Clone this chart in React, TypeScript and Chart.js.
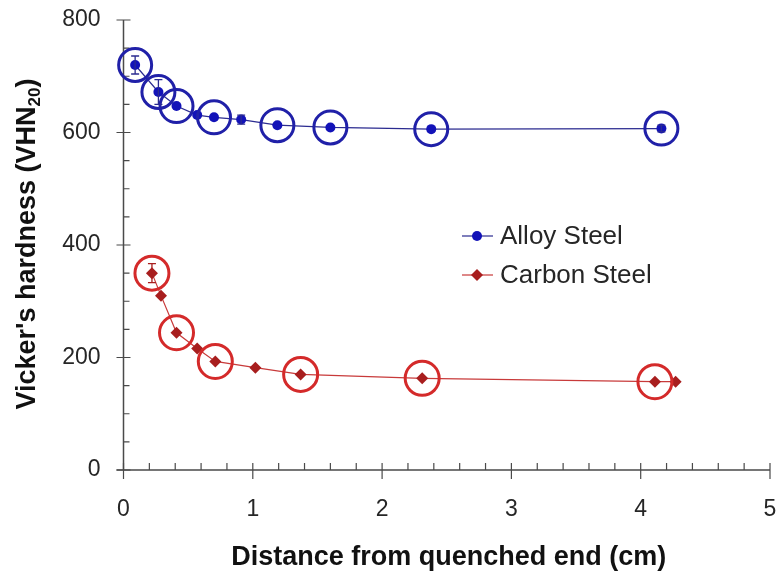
import React, { useEffect, useRef } from "react";
import { Chart, registerables } from "chart.js";

Chart.register(...registerables);

// ---- data ----
const alloyX = [0.09, 0.27, 0.41, 0.57, 0.7, 0.91, 1.19, 1.6, 2.38, 4.16];
const alloyY = [720, 672, 647, 631, 627, 623, 613, 609, 606, 607];
const alloyErr = [16, 22, 0, 0, 0, 8, 0, 0, 0, 6];
const alloyCircled = [true, true, true, false, true, false, true, true, true, true];

const carbonX = [0.22, 0.29, 0.41, 0.57, 0.71, 1.02, 1.37, 2.31, 4.11, 4.27];
const carbonY = [350, 310, 244, 216, 193, 182, 170, 163, 157, 157];
const carbonErr = [17, 0, 0, 0, 0, 0, 0, 0, 0, 0];
const carbonCircled = [true, false, true, false, true, false, true, true, true, false];

const xTicks = [0, 1, 2, 3, 4, 5];
const yTicks = [0, 200, 400, 600, 800];
const xTitle = "Distance from quenched end (cm)";
const yTitleMain = "Vicker's hardness (VHN";
const yTitleSub = "20";
const yTitleEnd = ")";
const seriesNames = ["Alloy Steel", "Carbon Steel"];

// ---- styles ----
const FONT = "'Liberation Sans', Arial, Helvetica, sans-serif";
const BLUE_LINE = "#2b2b90";
const BLUE_PT = "#1212b8";
const BLUE_RING = "#2020a8";
const RED_LINE = "#c83a3a";
const RED_PT = "#a81e1e";
const RED_RING = "#d42a2a";
const AXIS = "#4a4a4a";
const TEXT = "#262626";

const pts = (xs: number[], ys: number[]) => xs.map((x, i) => ({ x, y: ys[i] }));
const ptsMask = (xs: number[], ys: number[], m: boolean[]) =>
  xs.map((x, i) => ({ x, y: ys[i] })).filter((_, i) => m[i]);

const axesPlugin = {
  id: "customAxes",
  beforeDatasetsDraw(chart: any) {
    const { ctx, chartArea: a, scales } = chart;
    const xs = scales.x;
    const ys = scales.y;
    ctx.save();
    ctx.strokeStyle = AXIS;
    ctx.lineWidth = 1.5;
    ctx.beginPath();
    ctx.moveTo(a.left, a.top);
    ctx.lineTo(a.left, a.bottom);
    ctx.moveTo(a.left - 7, a.bottom);
    ctx.lineTo(a.right, a.bottom);
    ctx.stroke();
    ctx.lineWidth = 1.2;
    ctx.beginPath();
    for (let v = 0; v <= 800; v += 50) {
      const y = ys.getPixelForValue(v);
      if (v % 200 === 0) {
        ctx.moveTo(a.left - 7, y);
        ctx.lineTo(a.left + 7, y);
      } else {
        ctx.moveTo(a.left, y);
        ctx.lineTo(a.left + 6, y);
      }
    }
    for (let k = 0; k <= 25; k++) {
      const v = k * 0.2;
      const x = xs.getPixelForValue(v);
      if (k % 5 === 0) {
        ctx.moveTo(x, a.bottom - 7);
        ctx.lineTo(x, a.bottom + 9);
      } else {
        ctx.moveTo(x, a.bottom - 7);
        ctx.lineTo(x, a.bottom);
      }
    }
    ctx.stroke();
    ctx.restore();
  },
};

const errorPlugin = {
  id: "errorBars",
  afterDatasetsDraw(chart: any) {
    const { ctx, scales } = chart;
    const draw = (xs: number[], ys: number[], es: number[], color: string) => {
      ctx.save();
      ctx.strokeStyle = color;
      ctx.lineWidth = 1.3;
      ctx.beginPath();
      xs.forEach((xv, i) => {
        if (!es[i]) return;
        const x = scales.x.getPixelForValue(xv);
        const y1 = scales.y.getPixelForValue(ys[i] + es[i]);
        const y2 = scales.y.getPixelForValue(ys[i] - es[i]);
        ctx.moveTo(x, y1);
        ctx.lineTo(x, y2);
        ctx.moveTo(x - 4, y1);
        ctx.lineTo(x + 4, y1);
        ctx.moveTo(x - 4, y2);
        ctx.lineTo(x + 4, y2);
      });
      ctx.stroke();
      ctx.restore();
    };
    draw(alloyX, alloyY, alloyErr, BLUE_LINE);
    draw(carbonX, carbonY, carbonErr, RED_PT);
  },
};

const legendPlugin = {
  id: "customLegend",
  afterDraw(chart: any) {
    const { ctx } = chart;
    const rows = [
      { y: 236, line: BLUE_LINE, pt: BLUE_PT, style: "circle" },
      { y: 275, line: RED_LINE, pt: RED_PT, style: "diamond" },
    ];
    ctx.save();
    rows.forEach((r, i) => {
      ctx.strokeStyle = r.line;
      ctx.lineWidth = 1.2;
      ctx.beginPath();
      ctx.moveTo(462, r.y);
      ctx.lineTo(493, r.y);
      ctx.stroke();
      ctx.fillStyle = r.pt;
      ctx.beginPath();
      if (r.style === "circle") {
        ctx.arc(477, r.y, 5, 0, Math.PI * 2);
      } else {
        ctx.moveTo(477, r.y - 6);
        ctx.lineTo(483, r.y);
        ctx.lineTo(477, r.y + 6);
        ctx.lineTo(471, r.y);
        ctx.closePath();
      }
      ctx.fill();
      ctx.fillStyle = TEXT;
      ctx.font = `26px ${FONT}`;
      ctx.textAlign = "left";
      ctx.textBaseline = "middle";
      ctx.fillText(seriesNames[i], 500, r.y + 1);
    });
    ctx.restore();
  },
};

const titlesPlugin = {
  id: "customTitles",
  afterDraw(chart: any) {
    const { ctx, chartArea: a } = chart;
    ctx.save();
    ctx.fillStyle = "#111";
    ctx.font = `bold 27px ${FONT}`;
    ctx.textAlign = "center";
    ctx.textBaseline = "middle";
    ctx.fillText(xTitle, (a.left + a.right) / 2 + 2, 558);

    // y title with subscript
    const mainFont = `bold 27px ${FONT}`;
    const subFont = `bold 17px ${FONT}`;
    ctx.font = mainFont;
    const w1 = ctx.measureText(yTitleMain).width;
    const w3 = ctx.measureText(yTitleEnd).width;
    ctx.font = subFont;
    const w2 = ctx.measureText(yTitleSub).width;
    const total = w1 + w2 + w3;
    ctx.translate(28, 244);
    ctx.rotate(-Math.PI / 2);
    ctx.textAlign = "left";
    ctx.textBaseline = "middle";
    let x = -total / 2;
    ctx.font = mainFont;
    ctx.fillText(yTitleMain, x, 0);
    x += w1;
    ctx.font = subFont;
    ctx.fillText(yTitleSub, x, 7);
    x += w2;
    ctx.font = mainFont;
    ctx.fillText(yTitleEnd, x, 0);
    ctx.restore();
  },
};

export default function App() {
  const ref = useRef<HTMLCanvasElement>(null);
  useEffect(() => {
    document.body.style.margin = "0";
    const canvas = ref.current!;
    const chart = new Chart(canvas, {
      type: "scatter",
      data: {
        datasets: [
          {
            label: seriesNames[0],
            data: pts(alloyX, alloyY),
            showLine: true,
            borderColor: BLUE_LINE,
            borderWidth: 1.2,
            pointRadius: 5,
            pointStyle: "circle",
            pointBackgroundColor: BLUE_PT,
            pointBorderColor: BLUE_PT,
            pointBorderWidth: 0,
            clip: false,
            order: 2,
          },
          {
            label: seriesNames[1],
            data: pts(carbonX, carbonY),
            showLine: true,
            borderColor: RED_LINE,
            borderWidth: 1.2,
            pointRadius: 6,
            pointStyle: "rectRot",
            pointBackgroundColor: RED_PT,
            pointBorderColor: RED_PT,
            pointBorderWidth: 0,
            clip: false,
            order: 2,
          },
          {
            label: "alloy-rings",
            data: ptsMask(alloyX, alloyY, alloyCircled),
            showLine: false,
            pointRadius: 16.5,
            pointStyle: "circle",
            pointBackgroundColor: "rgba(0,0,0,0)",
            pointBorderColor: BLUE_RING,
            pointBorderWidth: 3,
            clip: false,
            order: 1,
          },
          {
            label: "carbon-rings",
            data: ptsMask(carbonX, carbonY, carbonCircled),
            showLine: false,
            pointRadius: 17,
            pointStyle: "circle",
            pointBackgroundColor: "rgba(0,0,0,0)",
            pointBorderColor: RED_RING,
            pointBorderWidth: 3,
            clip: false,
            order: 1,
          },
        ],
      },
      options: {
        animation: false,
        responsive: false,
        layout: { autoPadding: false, padding: { top: 20, right: 9, left: 0, bottom: 0 } },
        plugins: { legend: { display: false }, tooltip: { enabled: false } },
        scales: {
          x: {
            type: "linear",
            min: 0,
            max: 5,
            afterBuildTicks: (s: any) => {
              s.ticks = xTicks.map((v) => ({ value: v }));
            },
            ticks: {
              padding: 26,
              color: TEXT,
              font: { family: FONT, size: 23 },
              callback: (v: any) => String(v),
            },
            grid: { display: true, drawOnChartArea: false, drawTicks: false, color: "rgba(0,0,0,0)" },
            border: { display: false },
            afterFit: (s: any) => {
              s.height = 105;
              s.paddingLeft = 0;
              s.paddingRight = 0;
            },
          },
          y: {
            type: "linear",
            min: 0,
            max: 800,
            afterBuildTicks: (s: any) => {
              s.ticks = yTicks.map((v) => ({ value: v }));
            },
            ticks: {
              padding: 23,
              color: TEXT,
              font: { family: FONT, size: 23 },
              callback: (v: any) => String(v),
            },
            grid: { display: true, drawOnChartArea: false, drawTicks: false, color: "rgba(0,0,0,0)" },
            border: { display: false },
            afterFit: (s: any) => {
              s.width = 123.5;
              s.paddingTop = 0;
              s.paddingBottom = 0;
            },
          },
        },
      },
      plugins: [axesPlugin, errorPlugin, legendPlugin, titlesPlugin],
    } as any);
    return () => chart.destroy();
  }, []);
  return <canvas ref={ref} width={779} height={575} style={{ display: "block" }} />;
}
